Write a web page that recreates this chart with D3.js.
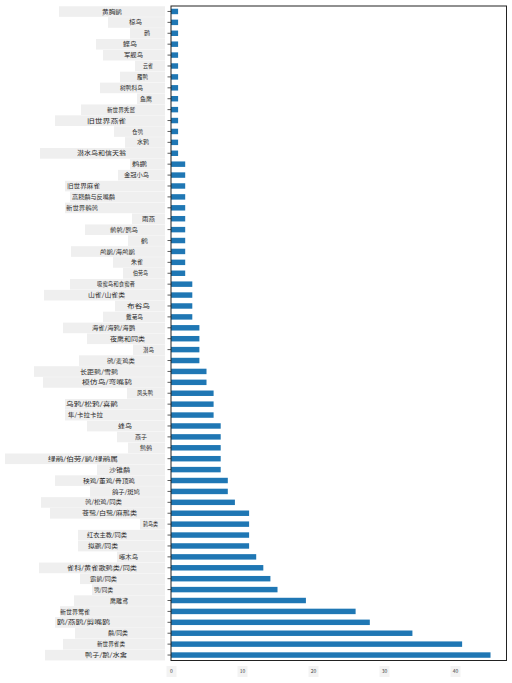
<!DOCTYPE html>
<html>
<head>
<meta charset="utf-8">
<script src="https://cdn.jsdelivr.net/npm/d3@7"></script>
<style>
  body { margin: 0; background: #fff; }
  text { font-family: "Noto Sans CJK SC", "Noto Sans", sans-serif; }
</style>
</head>
<body>
<script>
var WIDTH = 512,
    HEIGHT = 683;

// category counts, in value_counts order (largest first, drawn at the bottom)
var categories = [
  "鸭子/鹅/水禽", "新世界雀类", "鹬/同类", "鸥/燕鸥/剪嘴鸥", "新世界莺雀",
  "鹰雕鸢", "鸮/同类", "霸鹟/同类", "雀科/黄雀歌鹀类/同类", "啄木鸟",
  "拟鹂/同类", "红衣主教/同类", "鸫鸟类", "苍鹭/白鹭/麻鳽类", "鹑/松鸡/同类",
  "鸽子/斑鸠", "秧鸡/董鸡/骨顶鸡", "沙锥鹬", "绿鹃/伯劳/鹟/绿鹃属", "鹪鹩",
  "燕子", "蜂鸟", "隼/卡拉卡拉", "乌鸦/松鸦/喜鹊", "凤头鸭",
  "模仿鸟/弯嘴鸫", "长距鹀/雪鹀", "鸻/麦鸡类", "潜鸟", "夜鹰和同类",
  "海雀/海鸦/海鹦", "戴菊鸟", "布谷鸟", "山雀/山雀类", "吸蜜鸟和食蜜者",
  "伯劳鸟", "朱雀", "鸬鹚/海鸬鹚", "鹤", "鹡鸰/鹨鸟",
  "雨燕", "新世界鹌鹑", "高跷鹬与反嘴鹬", "旧世界麻雀", "金冠小鸟",
  "鹈鹕", "潜水鸟和信天翁", "水鸦", "仓鸮", "旧世界燕雀",
  "新世界秃鹫", "鱼鹰", "树鸭科鸟", "雁鸭", "云雀",
  "军舰鸟", "鲣鸟", "鹮", "椋鸟", "黄胸鹟"
];

var counts = [
  45, 41, 34, 28, 26, 19, 15, 14, 13, 12,
  11, 11, 11, 11, 9, 8, 8, 7, 7, 7,
  7, 7, 6, 6, 6, 5, 5, 4, 4, 4,
  4, 3, 3, 3, 3, 2, 2, 2, 2, 2,
  2, 2, 2, 2, 2, 2, 1, 1, 1, 1,
  1, 1, 1, 1, 1, 1, 1, 1, 1, 1
];

var xTicks = [0, 10, 20, 30, 40];

// label boxes as drawn, top row first: [box left, text left, text right]
var labelLayout = [
  [59,102,122],[108,129,142],[130,144,150],[96,123,137],[103,124,143],
  [135,143,153],[120,137,148],[100,120,143],[137,140,152],[81,107,135],
  [55,87,126],[114,132,143],[125,137,149],[40,77,126],[130,132,147],
  [118,124,149],[65,67,100],[70,72,115],[65,66,98],[132,142,155],
  [85,110,138],[128,141,148],[71,100,135],[113,131,143],[123,133,148],
  [70,97,135],[44,88,125],[115,127,150],[103,126,143],[63,92,135],
  [87,110,145],[133,143,154],[79,107,135],[34,80,118],[43,82,132],
  [127,137,153],[65,66,118],[65,68,103],[87,118,132],[117,135,147],
  [128,140,152],[5,48,118],[97,109,130],[55,83,135],[90,112,140],
  [41,85,122],[50,82,137],[140,143,158],[78,87,127],[78,88,118],
  [117,119,138],[39,67,137],[80,90,117],[92,94,113],[74,110,128],
  [60,60,90],[55,57,110],[75,108,128],[63,97,125],[45,85,127]
];

var data = categories.map(function(c, i) { return { name: c, value: counts[i], idx: i }; });

var plotLeft = 171, plotRight = 506.5, plotTop = 6, plotBottom = 660.5;

var x = d3.scaleLinear()
  .domain([0, d3.max(counts) * 1.05])
  .range([plotLeft, plotRight]);

// index 0 at the bottom, like pandas barh
var y = d3.scaleBand()
  .domain(d3.range(data.length).reverse())
  .range([plotTop, plotBottom])
  .paddingInner(0.5)
  .paddingOuter(0.25);

var svg = d3.select("body").append("svg")
  .attr("width", WIDTH)
  .attr("height", HEIGHT);

// label boxes + text
var labels = svg.append("g").attr("class", "labels");
data.forEach(function(d) {
  var row = data.length - 1 - d.idx,
      lay = labelLayout[row],
      cy = y(d.idx) + y.bandwidth() / 2;
  labels.append("rect")
    .attr("x", lay[0])
    .attr("y", cy - 5.2)
    .attr("width", 165 - lay[0])
    .attr("height", 10.6)
    .style("fill", "#efefef");
  labels.append("text")
    .attr("x", lay[1])
    .attr("y", cy)
    .attr("dy", "0.35em")
    .attr("textLength", lay[2] - lay[1])
    .attr("lengthAdjust", "spacingAndGlyphs")
    .style("font-size", "6px")
    .style("fill", "#2a2a2a")
    .text(d.name);
});

svg.selectAll(".bar").data(data)
  .enter().append("rect")
  .attr("class", "bar")
  .attr("x", x(0))
  .attr("y", function(d) { return y(d.idx); })
  .attr("width", function(d) { return x(d.value) - x(0); })
  .attr("height", y.bandwidth())
  .style("fill", "#1f77b4");

// y ticks
var yAxis = svg.append("g")
  .attr("transform", "translate(" + plotLeft + ",0)")
  .call(d3.axisLeft(y).tickSize(3.5).tickFormat(""));
yAxis.select(".domain").remove();
yAxis.selectAll("line").style("stroke", "#333").style("stroke-width", 0.8);

// x axis labels with faint boxes
var xAxis = svg.append("g")
  .attr("transform", "translate(0," + plotBottom + ")")
  .call(d3.axisBottom(x).tickValues(xTicks).tickSize(0).tickPadding(9));
xAxis.select(".domain").remove();
xAxis.selectAll(".tick").insert("rect", "text")
  .attr("x", -5)
  .attr("y", 5.5)
  .attr("width", 10)
  .attr("height", 11)
  .style("fill", "#f3f3f3");
xAxis.selectAll("text")
  .style("font-size", "5px")
  .style("fill", "#444");

// frame
svg.append("rect")
  .attr("x", plotLeft)
  .attr("y", plotTop)
  .attr("width", plotRight - plotLeft)
  .attr("height", plotBottom - plotTop)
  .style("fill", "none")
  .style("stroke", "#222")
  .style("stroke-width", 1);
</script>
</body>
</html>
